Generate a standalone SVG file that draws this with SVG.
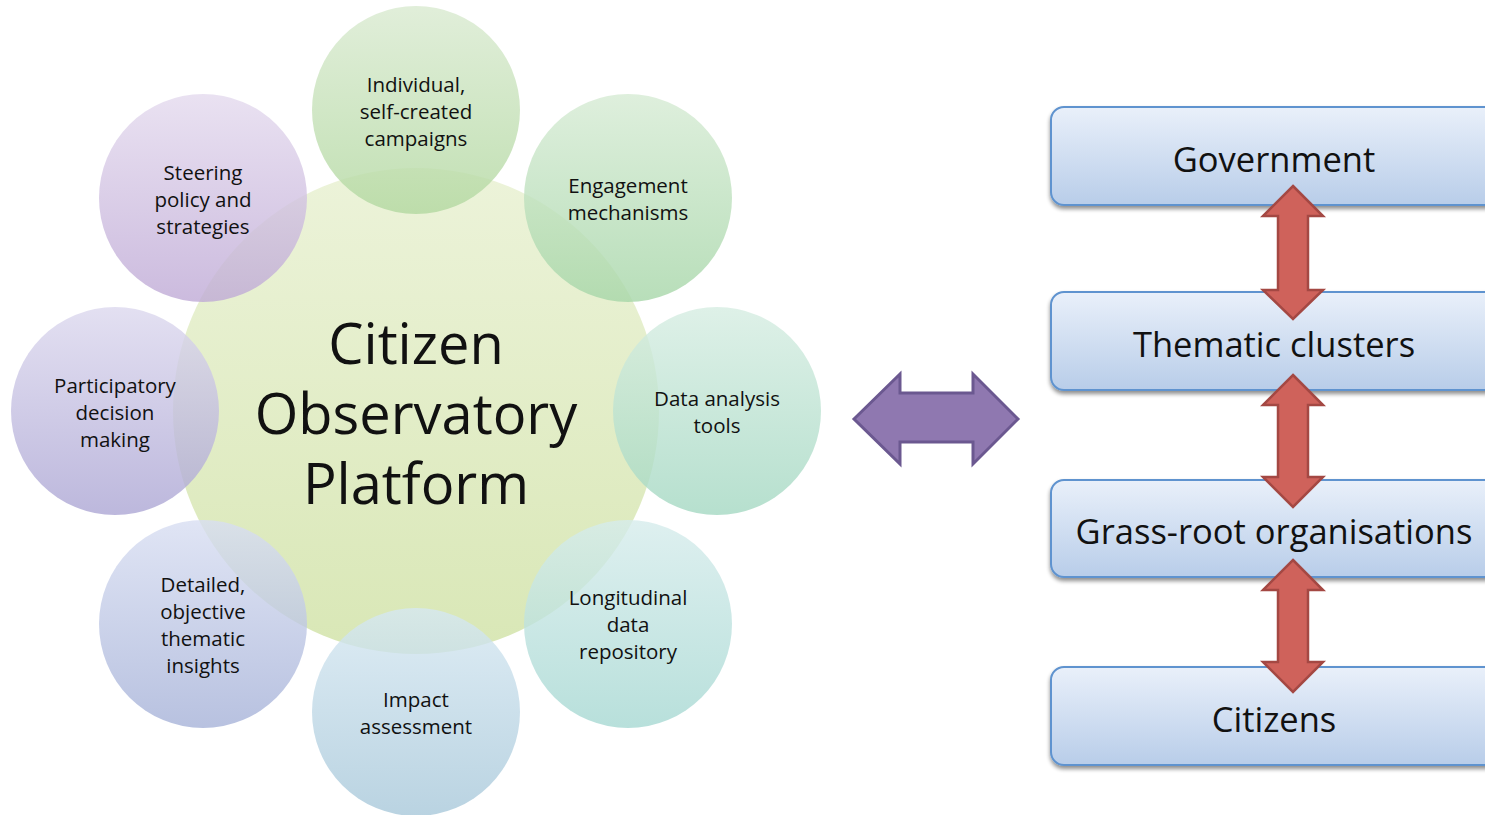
<svg xmlns="http://www.w3.org/2000/svg" width="1485" height="815" viewBox="0 0 1485 815">
<defs>
<style>
.sat{font-family:"Open Sans","Liberation Sans",sans-serif;font-size:20.5px;fill:#111;text-anchor:middle}
.big{font-family:"Open Sans","Liberation Sans",sans-serif;font-size:56px;fill:#111;text-anchor:middle}
.box{font-family:"Open Sans","Liberation Sans",sans-serif;font-size:34.5px;fill:#111;text-anchor:middle}
.bx{fill:url(#gBox);stroke:#5f93cf;stroke-width:2}
.red{fill:#cf625b;stroke:#a44843;stroke-width:2.5;stroke-linejoin:miter}
.c{fill-opacity:0.8}
</style>
<linearGradient id="gCenter" x1="0" y1="0" x2="0" y2="1"><stop offset="0" stop-color="#e9f1d3"/><stop offset="1" stop-color="#d2e3a9"/></linearGradient>
<linearGradient id="g1" x1="0" y1="0" x2="0" y2="1"><stop offset="0" stop-color="#d9ead0"/><stop offset="1" stop-color="#b2d8a0"/></linearGradient>
<linearGradient id="g2" x1="0" y1="0" x2="0" y2="1"><stop offset="0" stop-color="#d6ebd4"/><stop offset="1" stop-color="#a6d6a8"/></linearGradient>
<linearGradient id="g3" x1="0" y1="0" x2="0" y2="1"><stop offset="0" stop-color="#d6ede2"/><stop offset="1" stop-color="#a4d8c2"/></linearGradient>
<linearGradient id="g4" x1="0" y1="0" x2="0" y2="1"><stop offset="0" stop-color="#d6ecec"/><stop offset="1" stop-color="#a6d8d2"/></linearGradient>
<linearGradient id="g5" x1="0" y1="0" x2="0" y2="1"><stop offset="0" stop-color="#d6e8f2"/><stop offset="1" stop-color="#a8c8da"/></linearGradient>
<linearGradient id="g6" x1="0" y1="0" x2="0" y2="1"><stop offset="0" stop-color="#d8def2"/><stop offset="1" stop-color="#a6b2d8"/></linearGradient>
<linearGradient id="g7" x1="0" y1="0" x2="0" y2="1"><stop offset="0" stop-color="#dcd8ee"/><stop offset="1" stop-color="#aca6d4"/></linearGradient>
<linearGradient id="g8" x1="0" y1="0" x2="0" y2="1"><stop offset="0" stop-color="#e4daee"/><stop offset="1" stop-color="#bfaad6"/></linearGradient>
<linearGradient id="gBox" x1="0" y1="0" x2="0" y2="1"><stop offset="0" stop-color="#e9f0fa"/><stop offset="1" stop-color="#b8cde9"/></linearGradient>
<filter id="sh" x="-10%" y="-10%" width="130%" height="140%"><feGaussianBlur in="SourceAlpha" stdDeviation="2"/><feOffset dx="0" dy="3"/><feComponentTransfer><feFuncA type="linear" slope="0.45"/></feComponentTransfer><feMerge><feMergeNode/><feMergeNode in="SourceGraphic"/></feMerge></filter>
</defs>
<rect width="1485" height="815" fill="#fff"/>

<g id="center">
<circle cx="416" cy="411" r="243" fill="url(#gCenter)" fill-opacity="0.85"/>
<text class="big" x="416" y="364">Citizen</text>
<text class="big" x="416" y="434">Observatory</text>
<text class="big" x="416" y="504">Platform</text>
</g>

<g id="individual">
<circle class="c" cx="416" cy="110" r="104" fill="url(#g1)"/>
<text class="sat" x="416" y="92">Individual,</text>
<text class="sat" x="416" y="119">self-created</text>
<text class="sat" x="416" y="146">campaigns</text>
</g>
<g id="engagement">
<circle class="c" cx="628" cy="198" r="104" fill="url(#g2)"/>
<text class="sat" x="628" y="193">Engagement</text>
<text class="sat" x="628" y="220">mechanisms</text>
</g>
<g id="data-analysis">
<circle class="c" cx="717" cy="411" r="104" fill="url(#g3)"/>
<text class="sat" x="717" y="406">Data analysis</text>
<text class="sat" x="717" y="433">tools</text>
</g>
<g id="longitudinal">
<circle class="c" cx="628" cy="624" r="104" fill="url(#g4)"/>
<text class="sat" x="628" y="605">Longitudinal</text>
<text class="sat" x="628" y="632">data</text>
<text class="sat" x="628" y="659">repository</text>
</g>
<g id="impact">
<circle class="c" cx="416" cy="712" r="104" fill="url(#g5)"/>
<text class="sat" x="416" y="707">Impact</text>
<text class="sat" x="416" y="734">assessment</text>
</g>
<g id="detailed">
<circle class="c" cx="203" cy="624" r="104" fill="url(#g6)"/>
<text class="sat" x="203" y="592">Detailed,</text>
<text class="sat" x="203" y="619">objective</text>
<text class="sat" x="203" y="646">thematic</text>
<text class="sat" x="203" y="673">insights</text>
</g>
<g id="participatory">
<circle class="c" cx="115" cy="411" r="104" fill="url(#g7)"/>
<text class="sat" x="115" y="393">Participatory</text>
<text class="sat" x="115" y="420">decision</text>
<text class="sat" x="115" y="447">making</text>
</g>
<g id="steering">
<circle class="c" cx="203" cy="198" r="104" fill="url(#g8)"/>
<text class="sat" x="203" y="180">Steering</text>
<text class="sat" x="203" y="207">policy and</text>
<text class="sat" x="203" y="234">strategies</text>
</g>

<g id="government">
<rect class="bx" x="1051" y="107" width="460" height="98" rx="13" filter="url(#sh)"/>
<text class="box" x="1274" y="172">Government</text>
</g>
<g id="thematic">
<rect class="bx" x="1051" y="292" width="460" height="98" rx="13" filter="url(#sh)"/>
<text class="box" x="1274" y="357">Thematic clusters</text>
</g>
<g id="grassroot">
<rect class="bx" x="1051" y="480" width="460" height="97" rx="13" filter="url(#sh)"/>
<text class="box" x="1274" y="544">Grass-root organisations</text>
</g>
<g id="citizens">
<rect class="bx" x="1051" y="667" width="460" height="98" rx="13" filter="url(#sh)"/>
<text class="box" x="1274" y="732">Citizens</text>
</g>

<g id="connectors">
<polygon fill="#8f78b0" stroke="#6b5890" stroke-width="3" stroke-linejoin="miter" points="854,419 900,374 900,393 973,393 973,374 1018,419 973,464 973,442 900,442 900,464"/>
<polygon class="red" points="1293,186 1323,216 1308,216 1308,290 1323,290 1293,319 1263,290 1278,290 1278,216 1263,216"/>
<polygon class="red" points="1293,375 1323,405 1308,405 1308,477 1323,477 1293,507 1263,477 1278,477 1278,405 1263,405"/>
<polygon class="red" points="1293,560 1323,590 1308,590 1308,662 1323,662 1293,692 1263,662 1278,662 1278,590 1263,590"/>
</g>
</svg>
